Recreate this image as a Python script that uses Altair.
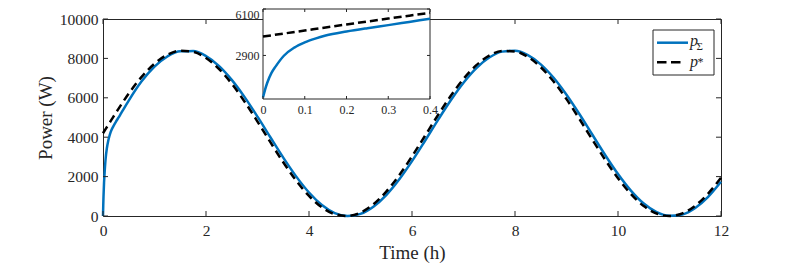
import altair as alt
import pandas as pd

# ---------------- data ----------------
series_names = ["p\u03a3", "p*"]

t_p_sum = [0, 0.005, 0.01, 0.02, 0.03, 0.05, 0.075, 0.1, 0.125, 0.15, 0.2, 0.25, 0.3,
           0.35, 0.4, 0.5, 0.75, 1.0, 1.25, 1.5, 1.75, 2.0, 2.25, 2.5, 2.75, 3.0, 3.25,
           3.5, 3.75, 4.0, 4.25, 4.5, 4.75, 5.0, 5.25, 5.5, 5.75, 6.0, 6.25, 6.5, 6.75,
           7.0, 7.25, 7.5, 7.75, 8.0, 8.25, 8.5, 8.75, 9.0, 9.25, 9.5, 9.75, 10.0,
           10.25, 10.5, 10.75, 11.0, 11.25, 11.5, 11.75, 12.0]
p_sum = [0, 550, 1000, 1680, 2130, 2880, 3440, 3800, 4060, 4270, 4550, 4780, 4990,
         5210, 5430, 5860, 6835, 7582, 8099, 8364, 8370, 8117, 7620, 6911, 6033, 5041, 3997,
         2965, 2011, 1192, 560, 151, 1, 108, 470, 1063, 1852, 2787, 3809, 4856, 5862,
         6765, 7508, 8045, 8344, 8384, 8165, 7699, 7016, 6157, 5177, 4136, 3099, 2131,
         1291, 632, 194, 7, 79, 408, 973, 1738]

t_p_star = [0, 0.05, 0.1, 0.15, 0.2, 0.25, 0.3, 0.35, 0.4, 0.5, 0.75, 1.0, 1.25, 1.5,
            1.75, 2.0, 2.25, 2.5, 2.75, 3.0, 3.25, 3.5, 3.75, 4.0, 4.25, 4.5, 4.75, 5.0,
            5.25, 5.5, 5.75, 6.0, 6.25, 6.5, 6.75, 7.0, 7.25, 7.5, 7.75, 8.0, 8.25, 8.5,
            8.75, 9.0, 9.25, 9.5, 9.75, 10.0, 10.25, 10.5, 10.75, 11.0, 11.25, 11.5,
            11.75, 12.0]
p_star = [4200, 4410, 4619, 4828, 5034, 5239, 5441, 5640, 5836, 6214, 7063, 7734, 8186,
          8390, 8333, 8019, 7468, 6714, 5803, 4793, 3746, 2727, 1799, 1021, 441, 94, 3,
          173, 592, 1237, 2065, 3026, 4061, 5103, 6090, 6959, 7657, 8140, 8377, 8355,
          8075, 7554, 6824, 5931, 4930, 3884, 2858, 1915, 1114, 505, 126, 0, 135, 523,
          1140, 1946]

x_ticks = [0, 2, 4, 6, 8, 10, 12]
y_ticks = [0, 2000, 4000, 6000, 8000, 10000]
x_domain = [0, 12]
y_domain = [0, 10000]

inset_x_ticks = [0, 0.1, 0.2, 0.3, 0.4]
inset_y_ticks = [2900, 6100]
inset_x_domain = [0, 0.4]
inset_y_domain = [-100, 6100]

# ---------------- layout / style ----------------
W, H = 618, 197
INSET_X_RANGE = [160, 327]
INSET_Y_RANGE = [80, -10]
BLUE = "#0072BD"
INK = "#262626"
FONT = "Liberation Serif"

df_sum = pd.DataFrame({"t": t_p_sum, "p": p_sum})
df_star = pd.DataFrame({"t": t_p_star, "p": p_star})
df_xt = pd.DataFrame({"t": x_ticks})
df_yt = pd.DataFrame({"p": y_ticks})
df_ixt = pd.DataFrame({"t": inset_x_ticks})
df_iyt = pd.DataFrame({"p": inset_y_ticks})
df_box = pd.DataFrame({"t": [inset_x_domain[0]], "t2": [inset_x_domain[1]],
                       "p": [inset_y_domain[0]], "p2": [inset_y_domain[1]]})
df_one = pd.DataFrame({"a": [0]})

x_main = alt.X(
    "t:Q",
    scale=alt.Scale(domain=x_domain, nice=False, zero=False),
    axis=alt.Axis(values=x_ticks, format="d", ticks=False, domain=False, grid=False,
                  labelFont=FONT, labelFontSize=15.5, labelColor=INK, labelPadding=7,
                  labelFlush=False, labelOverlap=False,
                  title="Time (h)", titleFont=FONT, titleFontSize=19,
                  titleFontWeight="normal", titleColor=INK, titleX=W / 2, titleY=42,
                  titleAlign="center", titleBaseline="alphabetic"),
)
y_main = alt.Y(
    "p:Q",
    scale=alt.Scale(domain=y_domain, nice=False, zero=False),
    axis=alt.Axis(values=y_ticks, format="d", ticks=False, domain=False, grid=False,
                  labelFont=FONT, labelFontSize=15.5, labelColor=INK, labelPadding=5,
                  labelFlush=False, labelOverlap=False,
                  title="Power (W)", titleFont=FONT, titleFontSize=19,
                  titleFontWeight="normal", titleColor=INK, titleX=-58, titleY=H / 2,
                  titleAngle=270, titleAlign="center", titleBaseline="middle"),
)

line_sum = alt.Chart(df_sum).mark_line(
    color=BLUE, strokeWidth=2.5, interpolate="monotone"
).encode(x=x_main, y=y_main)
line_star = alt.Chart(df_star).mark_line(
    color="black", strokeWidth=2.5, strokeDash=[8, 5], interpolate="monotone"
).encode(x=x_main, y=y_main)

xt_bot = alt.Chart(df_xt).mark_rule(color=INK, strokeWidth=1).encode(
    x=x_main, y=alt.value(H), y2=alt.value(H - 5))
xt_top = alt.Chart(df_xt).mark_rule(color=INK, strokeWidth=1).encode(
    x=x_main, y=alt.value(0), y2=alt.value(5))
yt_left = alt.Chart(df_yt).mark_rule(color=INK, strokeWidth=1).encode(
    y=y_main, x=alt.value(0), x2=alt.value(5))
yt_right = alt.Chart(df_yt).mark_rule(color=INK, strokeWidth=1).encode(
    y=y_main, x=alt.value(W), x2=alt.value(W - 5))

# legend (drawn as a small box at the upper right)
leg_box = alt.Chart(df_one).mark_rect(fill="white", stroke=INK, strokeWidth=1).encode(
    x=alt.value(550), x2=alt.value(611), y=alt.value(11), y2=alt.value(56))
leg_l1 = alt.Chart(df_one).mark_rule(color=BLUE, strokeWidth=2.5).encode(
    x=alt.value(554), x2=alt.value(585), y=alt.value(23.7))
leg_l2 = alt.Chart(df_one).mark_rule(color="black", strokeWidth=2.5,
                                     strokeDash=[9.5, 4.5]).encode(
    x=alt.value(554), x2=alt.value(577.5), y=alt.value(43.3))
leg_p1 = alt.Chart(df_one).mark_text(
    text=series_names[0][0], font=FONT, fontStyle="italic", fontSize=16, color=INK,
    align="left", baseline="alphabetic").encode(x=alt.value(587), y=alt.value(27))
leg_s1 = alt.Chart(df_one).mark_text(
    text=series_names[0][1], font=FONT, fontSize=11, color=INK,
    align="left", baseline="alphabetic").encode(x=alt.value(593.5), y=alt.value(30.5))
leg_p2 = alt.Chart(df_one).mark_text(
    text=series_names[1][0], font=FONT, fontStyle="italic", fontSize=16, color=INK,
    align="left", baseline="alphabetic").encode(x=alt.value(587), y=alt.value(47.5))
leg_s2 = alt.Chart(df_one).mark_text(
    text=series_names[1][1], font=FONT, fontSize=12, color=INK,
    align="left", baseline="alphabetic").encode(x=alt.value(594.5), y=alt.value(47))

main = alt.layer(line_sum, line_star, xt_bot, xt_top, yt_left, yt_right,
                 leg_box, leg_l1, leg_l2, leg_p1, leg_s1, leg_p2, leg_s2)

# ---------------- inset ----------------
x_in = alt.X(
    "t:Q",
    scale=alt.Scale(domain=inset_x_domain, range=INSET_X_RANGE, nice=False, zero=False),
    axis=alt.Axis(orient="bottom", offset=-(H - INSET_Y_RANGE[0]), values=inset_x_ticks,
                  format="~g", ticks=False, domain=False, grid=False,
                  labelFont=FONT, labelFontSize=12, labelColor=INK, labelPadding=5,
                  labelFlush=False, labelOverlap=False, title=None),
)
y_in = alt.Y(
    "p:Q",
    scale=alt.Scale(domain=inset_y_domain, range=INSET_Y_RANGE, nice=False, zero=False),
    axis=alt.Axis(orient="left", offset=-INSET_X_RANGE[0], values=inset_y_ticks,
                  format="d", ticks=False, domain=False, grid=False,
                  labelFont=FONT, labelFontSize=12, labelColor=INK, labelPadding=4,
                  labelFlush=1, labelOverlap=False, title=None),
)

in_box = alt.Chart(df_box).mark_rect(fill="white", stroke=INK, strokeWidth=1).encode(
    x=x_in, x2="t2:Q", y=y_in, y2="p2:Q")
in_sum = alt.Chart(df_sum).transform_filter(alt.datum.t <= inset_x_domain[1]).mark_line(
    color=BLUE, strokeWidth=2.5, interpolate="monotone").encode(x=x_in, y=y_in)
in_star = alt.Chart(df_star).transform_filter(alt.datum.t <= inset_x_domain[1]).mark_line(
    color="black", strokeWidth=2.5, strokeDash=[8, 4], interpolate="monotone"
).encode(x=x_in, y=y_in)
ixt_bot = alt.Chart(df_ixt).mark_rule(color=INK, strokeWidth=1).encode(
    x=x_in, y=alt.value(INSET_Y_RANGE[0]), y2=alt.value(INSET_Y_RANGE[0] - 3))
ixt_top = alt.Chart(df_ixt).mark_rule(color=INK, strokeWidth=1).encode(
    x=x_in, y=alt.value(INSET_Y_RANGE[1]), y2=alt.value(INSET_Y_RANGE[1] + 3))
iyt_left = alt.Chart(df_iyt).mark_rule(color=INK, strokeWidth=1).encode(
    y=y_in, x=alt.value(INSET_X_RANGE[0]), x2=alt.value(INSET_X_RANGE[0] + 3))
iyt_right = alt.Chart(df_iyt).mark_rule(color=INK, strokeWidth=1).encode(
    y=y_in, x=alt.value(INSET_X_RANGE[1]), x2=alt.value(INSET_X_RANGE[1] - 3))

inset = alt.layer(in_box, in_sum, in_star, ixt_bot, ixt_top, iyt_left, iyt_right)

chart = alt.layer(main, inset).resolve_scale(
    x="independent", y="independent"
).properties(
    width=W, height=H,
    autosize=alt.AutoSizeParams(type="none"),
    padding={"left": 95, "top": 11, "right": 60, "bottom": 47},
    background="white",
).configure_view(
    stroke=INK, strokeWidth=1
).configure_axis(
    labelFont=FONT, titleFont=FONT, labelColor=INK, titleColor=INK
)

chart.save("out.html", embed_options={"renderer": "svg", "actions": False})
